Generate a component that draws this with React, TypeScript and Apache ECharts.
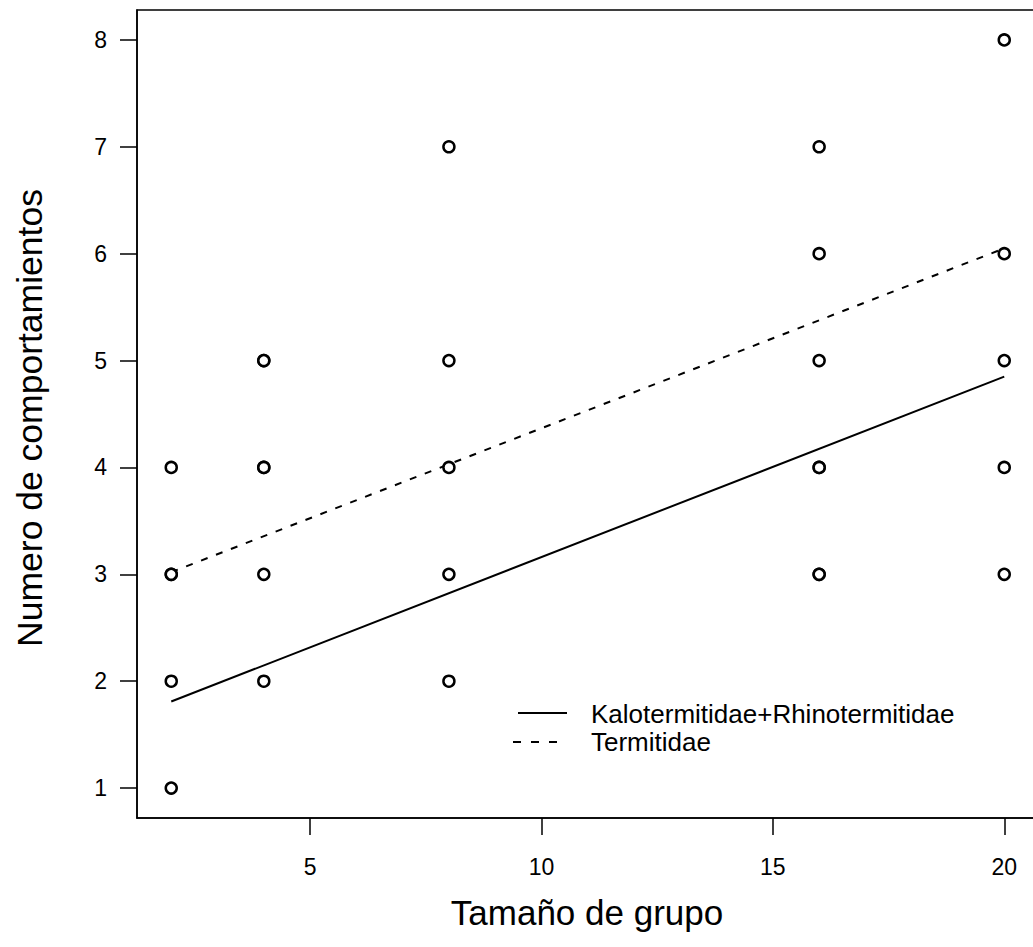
import React, { useEffect, useRef } from "react";
import * as echarts from "echarts";

// Observations: group size (x) vs number of behaviours (y)
const groupSize = [2, 2, 2, 2, 2, 4, 4, 4, 4, 4, 4, 8, 8, 8, 8, 8, 16, 16, 16, 16, 16, 16, 16, 20, 20, 20, 20, 20];
const behaviours = [4, 3, 3, 2, 1, 5, 5, 4, 4, 3, 2, 7, 5, 4, 3, 2, 7, 6, 5, 4, 4, 3, 3, 8, 6, 5, 4, 3];

// Fitted regression lines (endpoints at x = 2 and x = 20)
const fitX = [2, 20];
const fitKaloRhino = [1.81, 4.85];
const fitTermitidae = [3.02, 6.05];

const xTicks = [5, 10, 15, 20];
const yTicks = [1, 2, 3, 4, 5, 6, 7, 8];

const legendNames = ["Kalotermitidae+Rhinotermitidae", "Termitidae"];
const xTitle = "Tamaño de grupo";
const yTitle = "Numero de comportamientos";

const FONT = "'Liberation Sans', Arial, Helvetica, sans-serif";

export default function App() {
  const ref = useRef<HTMLDivElement>(null);

  useEffect(() => {
    if (!ref.current) return;
    const chart = echarts.init(ref.current, null, { renderer: "svg" });

    const points = groupSize.map((x, i) => [x, behaviours[i]]);
    const lineA = fitX.map((x, i) => [x, fitKaloRhino[i]]);
    const lineB = fitX.map((x, i) => [x, fitTermitidae[i]]);

    chart.setOption({
      animation: false,
      backgroundColor: "#ffffff",
      grid: {
        left: 137,
        top: 10,
        right: 6.5,
        bottom: 129,
        show: true,
        borderColor: "#000",
        borderWidth: 1.5,
        outerBoundsMode: "none",
      },
      xAxis: {
        type: "value",
        min: 1.26,
        max: 20.74,
        splitLine: { show: false },
        axisLine: { show: true, lineStyle: { color: "#000", width: 1.5 } },
        axisTick: {
          show: true,
          length: 17,
          customValues: xTicks,
          lineStyle: { color: "#000", width: 1.5 },
        },
        axisLabel: {
          customValues: xTicks,
          margin: 37,
          color: "#000",
          fontFamily: FONT,
          fontSize: 23,
        },
      },
      yAxis: {
        type: "value",
        min: 0.72,
        max: 8.28,
        splitLine: { show: false },
        axisLine: { show: true, lineStyle: { color: "#000", width: 1.5 } },
        axisTick: {
          show: true,
          length: 17,
          customValues: yTicks,
          lineStyle: { color: "#000", width: 1.5 },
        },
        axisLabel: {
          customValues: yTicks,
          margin: 30,
          color: "#000",
          fontFamily: FONT,
          fontSize: 23,
        },
      },
      series: [
        {
          type: "scatter",
          data: points,
          symbol: "circle",
          symbolSize: 11,
          itemStyle: { color: "#fff", borderColor: "#000", borderWidth: 2.5, opacity: 1 },
          z: 3,
        },
        {
          type: "line",
          name: legendNames[0],
          data: lineA,
          symbol: "none",
          lineStyle: { color: "#000", width: 2, type: "solid" },
          z: 2,
        },
        {
          type: "line",
          name: legendNames[1],
          data: lineB,
          symbol: "none",
          lineStyle: { color: "#000", width: 2, type: [7, 9] },
          z: 2,
        },
      ],
      graphic: [
        {
          type: "line",
          shape: { x1: 518, y1: 713, x2: 567, y2: 713 },
          style: { stroke: "#000", lineWidth: 2 },
        },
        {
          type: "line",
          shape: { x1: 513, y1: 742, x2: 567, y2: 742 },
          style: { stroke: "#000", lineWidth: 2, lineDash: [8, 10] },
        },
        {
          type: "text",
          x: 591,
          y: 714,
          style: {
            text: legendNames[0],
            fill: "#000",
            font: `26px ${FONT}`,
            verticalAlign: "middle",
          },
        },
        {
          type: "text",
          x: 591,
          y: 742,
          style: {
            text: legendNames[1],
            fill: "#000",
            font: `26px ${FONT}`,
            verticalAlign: "middle",
          },
        },
        {
          type: "text",
          x: 587,
          y: 912,
          style: {
            text: xTitle,
            fill: "#000",
            font: `35px ${FONT}`,
            align: "center",
            verticalAlign: "middle",
          },
        },
        {
          type: "text",
          x: 30,
          y: 418,
          rotation: Math.PI / 2,
          style: {
            text: yTitle,
            fill: "#000",
            font: `35.5px ${FONT}`,
            align: "center",
            verticalAlign: "middle",
          },
        },
      ],
    });

    return () => chart.dispose();
  }, []);

  return (
    <div style={{ position: "absolute", left: 0, top: 0, width: 1033, height: 947, overflow: "hidden" }}>
      <div ref={ref} style={{ width: 1045, height: 947 }} />
    </div>
  );
}
